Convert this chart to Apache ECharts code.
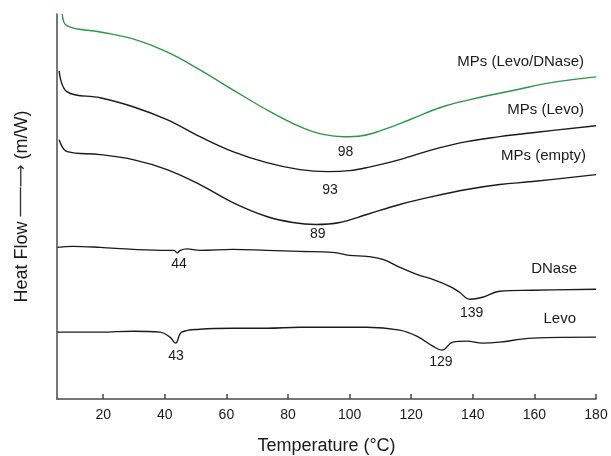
<!DOCTYPE html>
<html><head><meta charset="utf-8">
<script src="https://cdn.jsdelivr.net/npm/echarts@6/dist/echarts.min.js"></script>
<style>html,body{margin:0;padding:0;background:#fff}#c{width:611px;height:456px}</style>
</head><body><div id="c"></div>
<script>
// Temperature (°C), heat flow (arbitrary, offset units)
const levoDNaseMPs = [[6.7,386],[8.3,374],[19,368],[29.7,361],[40.7,348],[51.4,330],[62.1,310],[73.1,290],[83.9,273],[90.3,266],[98,263],[104,264],[110,269],[119.5,280],[130.2,293],[143.2,303],[154.2,310],[164.9,317],[180,323]];
const levoMPs = [[5.7,329],[8.3,308],[19,302],[29.7,293],[40.7,280],[51.4,263],[62.1,248],[73.1,237],[83.9,230],[93,228],[100,229],[105.6,232],[116.3,240],[127,250],[138,258],[148.7,263],[159.4,267],[180,274]];
const emptyMPs = [[5.7,260],[8.3,248],[19,245],[29.7,240],[40.7,230],[51.4,215],[62.1,197],[73.1,183],[81.6,177],[89,175],[96.8,177],[105.6,185],[116.3,195],[127,203],[138,210],[148.7,215],[159.4,218],[180,225]];
const dnase = [[5.1,152],[10,153],[19,152],[29.7,150],[40.7,149],[43,149],[44,146.5],[45,149],[47.2,150.5],[51.4,149],[62.1,150],[73.1,149],[83.9,148],[94.5,147],[100,144],[105.6,143],[110.8,140],[116.3,132],[121.8,125],[127,120],[132.5,113],[135.7,107],[139,100],[143.2,102],[148.7,108],[159.4,109],[180,110]];
const levo = [[5.1,67],[19,67],[29.7,68],[38.5,67],[41.7,62],[43.5,56],[45.5,67],[51.4,70],[62.1,71],[73.1,71],[83.9,72],[105.6,72],[116.3,69],[121.8,63],[127,53],[130,49],[133.5,57],[138,58],[143.2,56],[148.7,57],[159.4,61],[180,62]];

const seriesNames = ['MPs (Levo/DNase)','MPs (Levo)','MPs (empty)','DNase','Levo'];
const peaks = [[98],[93],[89],[44,139],[43,129]];
const xTicks = [20,40,60,80,100,120,140,160,180];

// styling / layout (not data)
const colors = ['#2f9548','#1a1a1a','#1a1a1a','#1a1a1a','#1a1a1a'];
const nameOffsets = [[-12,-15],[-12,-16],[-10,-19],[-19,-20],[-20,-18]];
const peakDy = [[15],[19],[10],[11,14],[13,12]];

const allData = [levoDNaseMPs, levoMPs, emptyMPs, dnase, levo];
const font = 'Liberation Sans, Arial, sans-serif';

function nearest(d, x){ let b=d[0]; for(const p of d){ if(Math.abs(p[0]-x)<Math.abs(b[0]-x)) b=p; } return b; }

const series = allData.map((d,i)=>{
  const last = d[d.length-1];
  const mp = [{coord:last, name:seriesNames[i], label:{formatter:seriesNames[i], offset:nameOffsets[i], fontSize:15, align:'right'}}];
  peaks[i].forEach((t,j)=>{
    const p = nearest(d,t);
    mp.push({coord:[t,p[1]], name:String(t), label:{formatter:String(t), offset:[2,peakDy[i][j]], fontSize:14, align:'center'}});
  });
  return {
    type:'line', name:seriesNames[i], data:d, showSymbol:false, smooth:0.4,
    lineStyle:{color:colors[i], width:1.4}, itemStyle:{color:colors[i]},
    animation:false, silent:true,
    markPoint:{symbol:'circle', symbolSize:0, animation:false, silent:true,
      label:{show:true, position:'inside', verticalAlign:'middle', color:'#1a1a1a', fontFamily:font},
      data:mp}
  };
});

const chart = echarts.init(document.getElementById('c'));
chart.setOption({
  animation:false,
  grid:{left:57, right:15, top:14, bottom:57, containLabel:false, outerBoundsMode:'none'},
  xAxis:{type:'value', min:5, max:180, interval:20,
    axisLine:{show:true, onZero:false, lineStyle:{color:'#4a4a4a', width:1.5}},
    axisTick:{show:true, inside:true, length:5, lineStyle:{color:'#4a4a4a', width:1.5},
      customValues:xTicks},
    axisLabel:{color:'#1a1a1a', fontSize:14, fontFamily:font, margin:9, customValues:xTicks},
    splitLine:{show:false},
    name:'Temperature (°C)', nameLocation:'middle', nameGap:38,
    nameTextStyle:{fontSize:18, color:'#1a1a1a', fontFamily:font}},
  yAxis:{type:'value', min:0, max:386,
    axisLine:{show:true, onZero:false, lineStyle:{color:'#4a4a4a', width:1.5}},
    axisTick:{show:false}, axisLabel:{show:false}, splitLine:{show:false},
    name:'{a|Heat Flow }{b|───⟶}{a| (m/W)}', nameLocation:'middle', nameGap:26,
    nameTextStyle:{fontFamily:font, color:'#1a1a1a',
      rich:{a:{fontSize:18, fontFamily:font, color:'#1a1a1a'}, b:{fontSize:16, fontFamily:'DejaVu Sans', color:'#333'}}}},
  series:series
});
</script></body></html>
